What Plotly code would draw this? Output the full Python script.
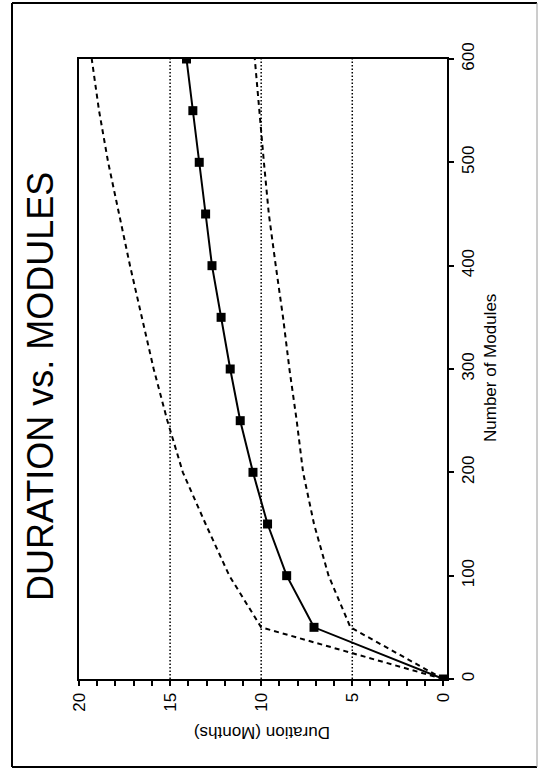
import plotly.graph_objects as go

# Number of modules (vertical axis after rotation) and project duration in months
modules = [0, 50, 100, 150, 200, 250, 300, 350, 400, 450, 500, 550, 600]
duration_actual = [0, 7.1, 8.6, 9.65, 10.45, 11.15, 11.7, 12.2, 12.7, 13.05, 13.4, 13.75, 14.1]
duration_upper = [0, 10, 11.75, 13.05, 14.3, 15.15, 15.9, 16.55, 17.2, 17.8, 18.4, 18.9, 19.3]
duration_lower = [0, 5.1, 6.3, 7.1, 7.7, 8.05, 8.45, 8.8, 9.2, 9.58, 9.85, 10.1, 10.35]

duration_ticks = [0, 5, 10, 15, 20]
module_ticks = [0, 100, 200, 300, 400, 500, 600]
grid_durations = [5, 10, 15]

title_text = "DURATION vs. MODULES"
duration_title = "Duration (Months)"
modules_title = "Number of Modules"

FONT = "Liberation Sans, Arial, Helvetica, sans-serif"
W, H = 539, 770
L, R, T, B = 79, 92, 59, 91
PW, PH = W - L - R, H - T - B


def px(x):
    return (x - L) / PW


def py(y):
    return (H - B - y) / PH


fig = go.Figure()

dash_style = dict(color="black", width=2, dash="5px,4px")
fig.add_trace(go.Scatter(x=duration_upper, y=modules, mode="lines",
                         line=dash_style, showlegend=False))
fig.add_trace(go.Scatter(x=duration_lower, y=modules, mode="lines",
                         line=dash_style, showlegend=False))
fig.add_trace(go.Scatter(x=duration_actual, y=modules, mode="lines+markers",
                         line=dict(color="black", width=2),
                         marker=dict(symbol="square", size=9, color="black"),
                         showlegend=False))

shapes = []
for g in grid_durations:
    shapes.append(dict(type="line", xref="x", yref="paper", x0=g, x1=g, y0=0, y1=1,
                       line=dict(color="black", width=1.5, dash="1.5px,2px"),
                       layer="below"))

# outer border around the page
fx0, fx1 = px(12), px(537)
fy0, fy1 = py(767), py(3)
shapes += [
    dict(type="line", xref="paper", yref="paper", x0=fx0, x1=fx0, y0=fy0, y1=fy1,
         line=dict(color="black", width=2)),
    dict(type="line", xref="paper", yref="paper", x0=fx0, x1=fx1, y0=fy1, y1=fy1,
         line=dict(color="black", width=2)),
    dict(type="line", xref="paper", yref="paper", x0=fx0, x1=fx1, y0=fy0, y1=fy0,
         line=dict(color="black", width=2)),
    dict(type="line", xref="paper", yref="paper", x0=fx1, x1=fx1, y0=fy0, y1=fy1,
         line=dict(color="#9a9a9a", width=1)),
]

label_common = dict(xref="paper", yref="paper", showarrow=False,
                    xanchor="center", yanchor="middle")
annotations = [
    dict(text=title_text, x=px(40), y=py(387), textangle=-90,
         font=dict(family=FONT, size=36, color="black"), **label_common),
    dict(text=duration_title, x=px(262), y=py(733), textangle=180,
         font=dict(family=FONT, size=17, color="black"), **label_common),
    dict(text=modules_title, x=px(490), y=py(368), textangle=-90,
         font=dict(family=FONT, size=17, color="black"), **label_common),
]

fig.update_layout(
    width=W, height=H, autosize=False,
    margin=dict(l=L, r=R, t=T, b=B, pad=0),
    paper_bgcolor="white", plot_bgcolor="white",
    shapes=shapes, annotations=annotations,
    font=dict(family=FONT, color="black"),
    xaxis=dict(range=[20, -0.2], tickvals=duration_ticks, ticktext=[str(v) for v in duration_ticks],
               showgrid=False, zeroline=False, showline=True, mirror=True,
               linecolor="black", linewidth=2, ticks="outside", ticklen=5, tickwidth=1.5,
               tickcolor="black", tickangle=-90, tickfont=dict(family=FONT, size=17),
               minor=dict(dtick=1, tick0=0, ticks="outside", ticklen=5, tickwidth=1.5,
                          tickcolor="black", showgrid=False)),
    yaxis=dict(range=[0, 600], side="right", tickvals=module_ticks,
               showgrid=False, zeroline=False, showline=True, mirror=True,
               linecolor="black", linewidth=2, ticks="outside", ticklen=5, tickwidth=1.5,
               tickcolor="black", tickangle=-90, tickfont=dict(family=FONT, size=17)),
)

fig.write_html("out.html")
